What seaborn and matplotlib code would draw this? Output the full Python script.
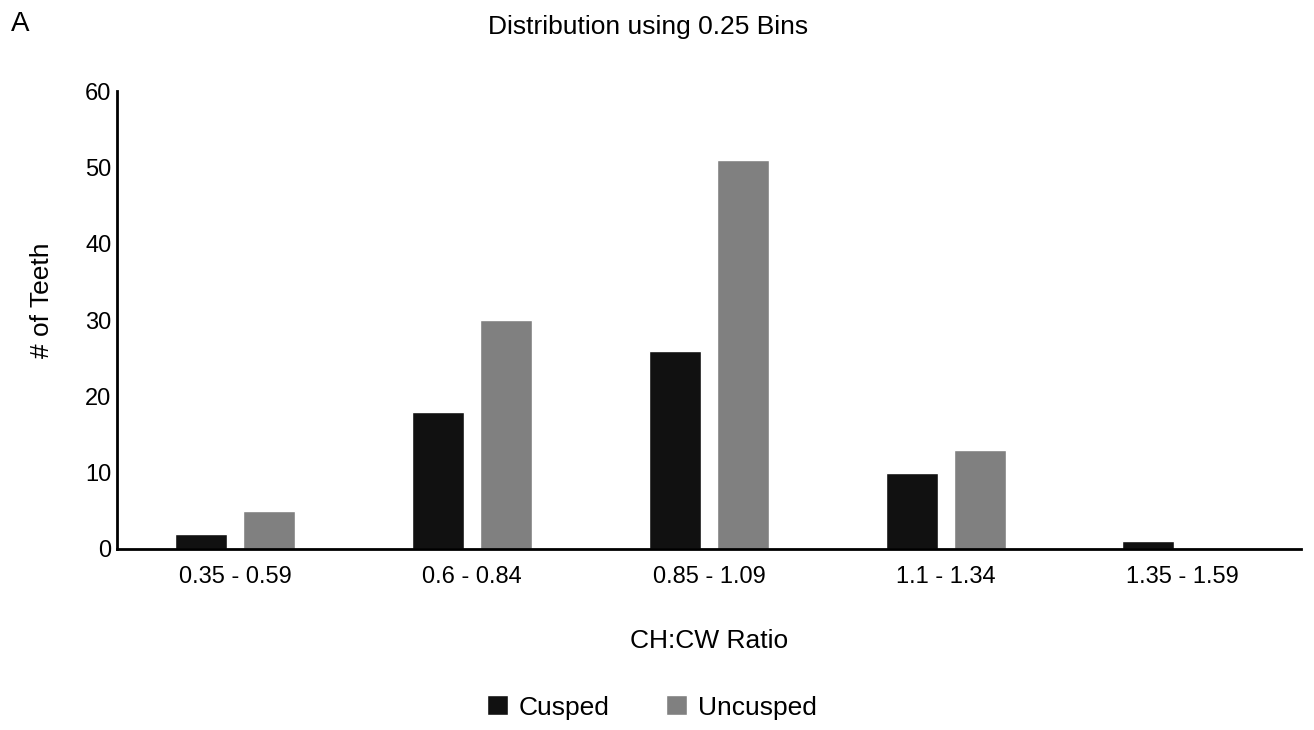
import pandas as pd
import matplotlib.pyplot as plt
import seaborn as sns

# Data
bins = ['0.35 - 0.59', '0.6 - 0.84', '0.85 - 1.09', '1.1 - 1.34', '1.35 - 1.59']
cusped = [2, 18, 26, 10, 1]
uncusped = [5, 30, 51, 13, 0]

df = pd.DataFrame({
    'Bin': bins * 2,
    'Count': cusped + uncusped,
    'Type': ['Cusped'] * len(bins) + ['Uncusped'] * len(bins),
})

sns.set_style('white')
plt.rcParams['font.family'] = ['Liberation Sans', 'DejaVu Sans']
plt.rcParams['text.color'] = 'black'
plt.rcParams['axes.labelcolor'] = 'black'
plt.rcParams['xtick.color'] = 'black'
plt.rcParams['ytick.color'] = 'black'

fig, ax = plt.subplots(figsize=(13.14, 7.3), dpi=100)
fig.subplots_adjust(left=0.089, right=0.99, bottom=0.248, top=0.875)

sns.barplot(data=df, x='Bin', y='Count', hue='Type', order=bins,
            palette={'Cusped': '#111111', 'Uncusped': '#808080'},
            width=0.575, gap=0.235, ax=ax, legend=True)

ax.set_xlim(-0.5, 4.5)
ax.set_ylim(0, 60)
ax.set_yticks(range(0, 61, 10))
ax.tick_params(axis='y', length=0, labelsize=17, pad=4)
ax.tick_params(axis='x', length=0, labelsize=17, pad=12)
for s in ['top', 'right']:
    ax.spines[s].set_visible(False)
for s in ['left', 'bottom']:
    ax.spines[s].set_linewidth(2)
    ax.spines[s].set_color('black')

ax.set_xlabel('CH:CW Ratio', fontsize=19, labelpad=30)
ax.set_ylabel('# of Teeth', fontsize=19)
ax.yaxis.set_label_coords(-0.053, 0.543)
fig.suptitle('Distribution using 0.25 Bins', fontsize=19, x=0.493, y=0.98)
fig.text(0.008, 0.958, 'A', fontsize=20)

handles, labels = ax.get_legend_handles_labels()
ax.get_legend().remove()
fig.legend(handles, labels, loc='center', bbox_to_anchor=(0.496, 0.031), ncol=2,
           frameon=False, fontsize=19, handlelength=0.8, handleheight=0.8,
           handletextpad=0.4, columnspacing=2.15)

plt.savefig('out.png', dpi=100)
